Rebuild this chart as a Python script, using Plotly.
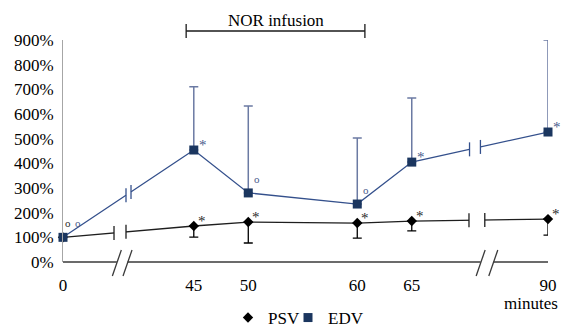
import numpy as np
import plotly.graph_objects as go

# ---------------- data ----------------
minutes = [0, 45, 50, 60, 65, 90]
tick_labels = ["0", "45", "50", "60", "65", "90"]
psv = [100, 146, 162, 158, 166, 174]
psv_err_minus = [0, 45, 85, 61, 40, 65]
edv = [100, 454, 280, 235, 405, 527]
edv_err_plus = [0, 256, 352, 268, 260, 373]
psv_sig = ["o", "*", "*", "*", "*", "*"]
edv_sig = ["o", "*", "o", "o", "*", "*"]
y_ticks = [0, 100, 200, 300, 400, 500, 600, 700, 800, 900]
y_tick_labels = ["0%", "100%", "200%", "300%", "400%", "500%", "600%", "700%", "800%", "900%"]
infusion_start, infusion_end = 45, 60

# ---------------- layout constants ----------------
W, H = 562, 327
PL, PT, PW, PH = 63, 40, 485, 222
X_MAX = 44.5
Y_MAX = 900
FONT = "Liberation Serif, Times New Roman, DejaVu Serif, serif"
EDV_LINE = "#34508C"
EDV_MARK = "#1B365F"
EDV_ERR = "#6B7AA3"
PSV_LINE = "#1E1E1E"


def axis_pos(t):
    """Broken time axis: 0-45 and 65-90 are compressed."""
    if t <= 45:
        return t * 12 / 45
    if t <= 65:
        return 12 + (t - 45)
    return 32 + (t - 65) * 12.5 / 25


def xp(d):  # display unit -> paper
    return d / X_MAX


def dx_px(p):  # pixels -> paper x
    return p / PW


def dy_px(p):  # pixels -> paper y
    return p / PH


xd = [axis_pos(t) for t in minutes]

fig = go.Figure()

fig.add_trace(go.Scatter(
    x=xd, y=psv, mode="lines+markers", name="PSV", showlegend=False,
    line=dict(color=PSV_LINE, width=1.3),
    marker=dict(symbol="diamond", size=8, color="#000000"),
    error_y=dict(type="data", symmetric=False, array=[0] * len(psv),
                 arrayminus=psv_err_minus, color="#000000", thickness=1.3, width=4.5),
    cliponaxis=False,
))
fig.add_trace(go.Scatter(
    x=xd, y=edv, mode="lines+markers", name="EDV", showlegend=False,
    line=dict(color=EDV_LINE, width=1.3),
    marker=dict(symbol="square", size=9, color=EDV_MARK),
    error_y=dict(type="data", symmetric=False, array=edv_err_plus,
                 arrayminus=[0] * len(edv), color=EDV_ERR, thickness=1.5, width=4.5),
    cliponaxis=False,
))
# legend entries (markers only)
fig.add_trace(go.Scatter(x=[None], y=[None], mode="markers", name="PSV", legend="legend",
                         marker=dict(symbol="diamond", size=8, color="#000000")))
fig.add_trace(go.Scatter(x=[None], y=[None], mode="markers", name="EDV", legend="legend2",
                         marker=dict(symbol="square", size=9, color=EDV_MARK)))

shapes = []

# broken x-axis line with slashes
axis_gaps = [(4.94, 5.92), (38.32, 39.48)]
segs = [(0, axis_gaps[0][0]), (axis_gaps[0][1], axis_gaps[1][0]), (axis_gaps[1][1], X_MAX)]
for a, b in segs:
    shapes.append(dict(type="line", xref="paper", yref="paper", x0=xp(a), x1=xp(b), y0=0, y1=0,
                       line=dict(color="#3A3A3A", width=1.3)))
for a, b in axis_gaps:
    for c in (a, b):
        shapes.append(dict(type="line", xref="paper", yref="paper",
                           x0=xp(c) - dx_px(4.5), x1=xp(c) + dx_px(4.5),
                           y0=-dy_px(14), y1=dy_px(12),
                           line=dict(color="#3A3A3A", width=1.3)))

# breaks drawn on the series lines
tick_half = 7 * Y_MAX / PH
line_breaks = [
    (psv, PSV_LINE, [(4.68, 5.78), (37.25, 38.7)]),
    (edv, EDV_LINE, [(5.78, 6.24), (37.3, 38.3)]),
]
for vals, col, gaps in line_breaks:
    for a, b in gaps:
        ya, yb = np.interp(a, xd, vals), np.interp(b, xd, vals)
        shapes.append(dict(type="line", xref="x", yref="y", x0=a, x1=b, y0=ya, y1=yb,
                           line=dict(color="white", width=5), layer="above"))
        for xx, yy in ((a, ya), (b, yb)):
            shapes.append(dict(type="line", xref="x", yref="y", x0=xx, x1=xx,
                               y0=yy - tick_half, y1=yy + tick_half,
                               line=dict(color=col, width=1.3), layer="above"))

# NOR infusion bracket
bx0 = xp(axis_pos(infusion_start) - 0.7)
bx1 = xp(axis_pos(infusion_end) + 0.7)
by = 1 + dy_px(9)
shapes.append(dict(type="line", xref="paper", yref="paper", x0=bx0, x1=bx1, y0=by, y1=by,
                   line=dict(color="#1A1A1A", width=1.3)))
for bx in (bx0, bx1):
    shapes.append(dict(type="line", xref="paper", yref="paper", x0=bx, x1=bx,
                       y0=by - dy_px(7), y1=by + dy_px(7),
                       line=dict(color="#1A1A1A", width=1.3)))

annotations = [
    dict(text="NOR infusion", xref="paper", yref="paper", x=(bx0 + bx1) / 2, y=1 + dy_px(19),
         showarrow=False, font=dict(family=FONT, size=17, color="#000"),
         xanchor="center", yanchor="middle"),
    dict(text="minutes", xref="paper", yref="paper", x=1 + dx_px(12), y=-dy_px(41),
         showarrow=False, font=dict(family=FONT, size=17, color="#000"),
         xanchor="right", yanchor="middle"),
]

def sig_ann(x, y, s, color, xs):
    if s == "*":
        return dict(text="*", x=x, y=y, xref="x", yref="y", showarrow=False,
                    font=dict(family=FONT, size=15, color=color),
                    xshift=xs, yshift=5, xanchor="center", yanchor="middle")
    return dict(text="o", x=x, y=y, xref="x", yref="y", showarrow=False,
                font=dict(family=FONT, size=11, color=color),
                xshift=xs, yshift=14, xanchor="center", yanchor="middle")

for i, (x, y, s) in enumerate(zip(xd, psv, psv_sig)):
    annotations.append(sig_ann(x, y, s, "#2A2A2A", 5 if i == 0 else 8))
for i, (x, y, s) in enumerate(zip(xd, edv, edv_sig)):
    annotations.append(sig_ann(x, y, s, "#4A5B8C", 15 if i == 0 else 9))

legend_style = dict(orientation="h", xanchor="left", y=-dy_px(56), yanchor="middle",
                    font=dict(family=FONT, size=17, color="#000"), itemwidth=30,
                    bgcolor="rgba(0,0,0,0)")

fig.update_layout(
    width=W, height=H,
    margin=dict(l=PL, r=W - PL - PW, t=PT, b=H - PT - PH, pad=0, autoexpand=False),
    paper_bgcolor="white", plot_bgcolor="white",
    font=dict(family=FONT, size=17, color="#000"),
    xaxis=dict(range=[0, X_MAX], tickvals=xd, ticktext=tick_labels, ticks="",
               showgrid=False, zeroline=False, showline=False, automargin=False,
               ticklabelstandoff=11, tickfont=dict(family=FONT, size=17, color="#000")),
    yaxis=dict(range=[0, Y_MAX], tickvals=y_ticks, ticktext=y_tick_labels, ticks="",
               showgrid=False, zeroline=False, showline=True, linecolor="#A6A6A6", linewidth=1,
               automargin=False,
               ticklabelstandoff=5, tickfont=dict(family=FONT, size=17, color="#000")),
    legend=dict(x=dx_px(228 - PL), **legend_style),
    legend2=dict(x=dx_px(288 - PL), **legend_style),
    shapes=shapes,
    annotations=annotations,
    showlegend=True,
)

fig.write_html("out.html", config={"displayModeBar": False},
               post_script="document.body.style.margin='0';document.body.style.padding='0';")
